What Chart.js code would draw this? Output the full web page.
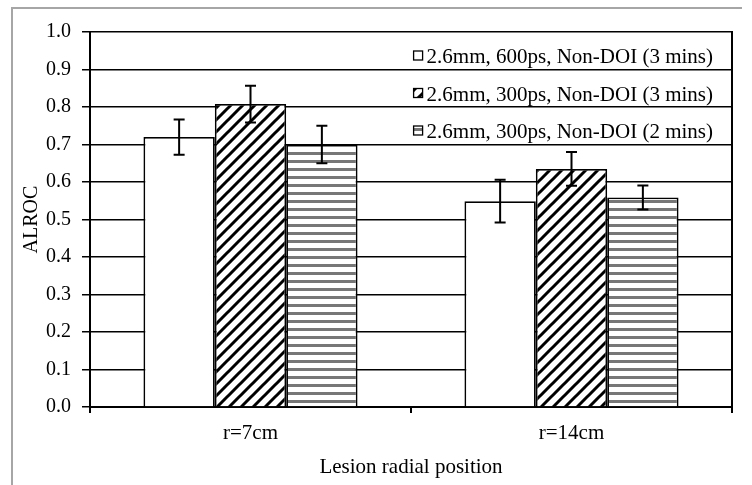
<!DOCTYPE html>
<html>
<head>
<meta charset="utf-8">
<script src="https://cdn.jsdelivr.net/npm/chart.js@4.4.1/dist/chart.umd.min.js"></script>
<style>
  html, body { margin: 0; padding: 0; background: #fff; }
  #c { display: block; }
</style>
</head>
<body>
<canvas id="c" width="752" height="485"></canvas>
<script>
// Lesion positions on the x axis
const categories = ['r=7cm', 'r=14cm'];

// Series names
const seriesNames = [
  '2.6mm, 600ps, Non-DOI (3 mins)',
  '2.6mm, 300ps, Non-DOI (3 mins)',
  '2.6mm, 300ps, Non-DOI (2 mins)'
];

// ALROC means per series
const alroc600ps3min = [0.72, 0.549];
const alroc300ps3min = [0.808, 0.635];
const alroc300ps2min = [0.70, 0.559];

// Half-widths of the error bars
const err600ps3min = [0.047, 0.057];
const err300ps3min = [0.049, 0.045];
const err300ps2min = [0.050, 0.032];

// Y axis range and step
const yMin = 0.0;
const yMax = 1.0;
const yStep = 0.1;

const axisTitleX = 'Lesion radial position';
const axisTitleY = 'ALROC';

const SERIF = "'Liberation Serif', 'Times New Roman', serif";

const canvas = document.getElementById('c');
const ctx = canvas.getContext('2d');

// Fill patterns: diagonal black hatch and grey horizontal stripes
function makeDiagonal() {
  const s = 12;
  const t = document.createElement('canvas');
  t.width = s; t.height = s;
  const g = t.getContext('2d');
  g.fillStyle = '#fff';
  g.fillRect(0, 0, s, s);
  g.strokeStyle = '#000';
  g.lineWidth = 3;
  g.beginPath();
  g.moveTo(-2, s + 2); g.lineTo(s + 2, -2);
  g.moveTo(-2, 2); g.lineTo(2, -2);
  g.moveTo(s - 2, s + 2); g.lineTo(s + 2, s - 2);
  g.stroke();
  return ctx.createPattern(t, 'repeat');
}
function makeStripes() {
  const w = 8, h = 8;
  const t = document.createElement('canvas');
  t.width = w; t.height = h;
  const g = t.getContext('2d');
  g.fillStyle = '#fff';
  g.fillRect(0, 0, w, h);
  g.fillStyle = '#777';
  g.fillRect(0, 0, w, 3);
  return ctx.createPattern(t, 'repeat');
}
const hatch = makeDiagonal();
const stripes = makeStripes();
const fills = ['#ffffff', hatch, stripes];
const errors = [err600ps3min, err300ps3min, err300ps2min];

// White page with a light grey frame
const framePlugin = {
  id: 'frame',
  beforeDraw(chart) {
    const c = chart.ctx;
    c.save();
    c.fillStyle = '#fff';
    c.fillRect(0, 0, chart.width, chart.height);
    c.strokeStyle = '#a6a6a6';
    c.lineWidth = 2;
    c.beginPath();
    c.moveTo(12, chart.height);
    c.lineTo(12, 8);
    c.lineTo(742, 8);
    c.stroke();
    c.restore();
  }
};

// Right edge of the plot area
const rightEdgePlugin = {
  id: 'rightEdge',
  afterDraw(chart) {
    const a = chart.chartArea;
    const c = chart.ctx;
    c.save();
    c.strokeStyle = '#000';
    c.lineWidth = 2;
    c.beginPath();
    c.moveTo(a.right, a.top - 1);
    c.lineTo(a.right, a.bottom + 6);
    c.stroke();
    c.restore();
  }
};

// Error bars drawn from the same values as the bars
const errorBarPlugin = {
  id: 'errorBars',
  afterDatasetsDraw(chart) {
    const c = chart.ctx;
    const ys = chart.scales.y;
    c.save();
    c.strokeStyle = '#000';
    c.lineWidth = 2;
    chart.data.datasets.forEach((ds, i) => {
      const meta = chart.getDatasetMeta(i);
      meta.data.forEach((bar, j) => {
        const v = ds.data[j];
        const e = errors[i][j];
        const x = bar.x;
        const yt = ys.getPixelForValue(v + e);
        const yb = ys.getPixelForValue(v - e);
        const cap = 5.5;
        c.beginPath();
        c.moveTo(x, yt); c.lineTo(x, yb);
        c.moveTo(x - cap, yt); c.lineTo(x + cap, yt);
        c.moveTo(x - cap, yb); c.lineTo(x + cap, yb);
        c.stroke();
      });
    });
    c.restore();
  }
};

// Legend rows inside the plot, right aligned
const legendPlugin = {
  id: 'inPlotLegend',
  afterDraw(chart) {
    const a = chart.chartArea;
    const ys = chart.scales.y;
    const c = chart.ctx;
    c.save();
    c.font = '21px ' + SERIF;
    c.textAlign = 'right';
    c.textBaseline = 'alphabetic';
    const textRight = a.right - 19;
    chart.data.datasets.forEach((ds, i) => {
      const rowBottom = ys.getPixelForValue(yMax - yStep * (i + 1));
      const base = rowBottom - 6.5;
      const tw = c.measureText(ds.label).width;
      const boxX = textRight - tw - 13;
      const boxY = base - 12;
      c.fillStyle = fills[i];
      c.fillRect(boxX, boxY, 9, 9);
      c.strokeStyle = '#000';
      c.lineWidth = 1.3;
      c.strokeRect(boxX, boxY, 9, 9);
      c.fillStyle = '#000';
      c.fillText(ds.label, textRight, base);
    });
    c.restore();
  }
};

Chart.defaults.font.family = SERIF;
Chart.defaults.font.size = 20;
Chart.defaults.color = '#000';

new Chart(canvas, {
  type: 'bar',
  data: {
    labels: categories,
    datasets: [alroc600ps3min, alroc300ps3min, alroc300ps2min].map((d, i) => ({
      label: seriesNames[i],
      data: d,
      backgroundColor: fills[i],
      borderColor: '#000',
      borderWidth: 1.8,
      categoryPercentage: 0.667,
      barPercentage: 1.0
    }))
  },
  options: {
    responsive: false,
    animation: false,
    devicePixelRatio: 1,
    layout: { padding: { left: 0, top: 32, right: 20, bottom: 0 } },
    plugins: {
      legend: { display: false },
      tooltip: { enabled: false }
    },
    scales: {
      x: {
        offset: true,
        grid: {
          offset: true,
          drawOnChartArea: false,
          drawTicks: true,
          tickLength: 6,
          color: '#000',
          lineWidth: 2
        },
        border: { display: true, color: '#000', width: 2 },
        ticks: { padding: 8, font: { size: 21 } },
        title: {
          display: true,
          text: axisTitleX,
          font: { size: 21 },
          padding: { top: 0, bottom: 5 }
        },
        afterFit(scale) { scale.height = 78; }
      },
      y: {
        min: yMin,
        max: yMax,
        grid: {
          color: '#000',
          lineWidth: 1.5,
          tickLength: 8,
          drawTicks: true
        },
        border: { display: true, color: '#000', width: 2 },
        ticks: {
          stepSize: yStep,
          padding: 11,
          font: { size: 20 },
          callback: (v) => Number(v).toFixed(1)
        },
        title: {
          display: true,
          text: axisTitleY,
          font: { size: 20 },
          padding: { top: 20, bottom: 0 }
        },
        afterFit(scale) { scale.width = 90; }
      }
    }
  },
  plugins: [framePlugin, errorBarPlugin, rightEdgePlugin, legendPlugin]
});
</script>
</body>
</html>
